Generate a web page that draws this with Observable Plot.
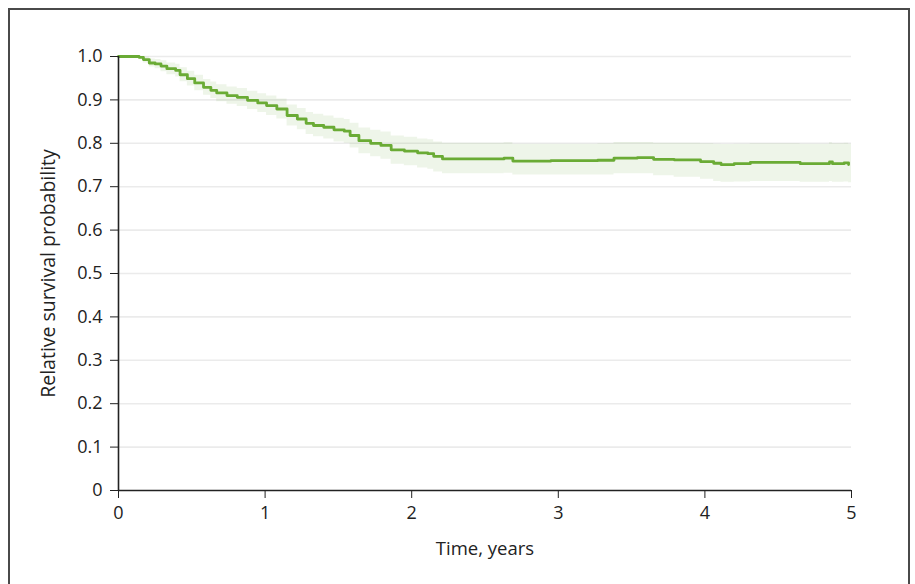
<!DOCTYPE html>
<html>
<head>
<meta charset="utf-8">
<script src="https://cdn.jsdelivr.net/npm/d3@7"></script>
<script src="https://cdn.jsdelivr.net/npm/@observablehq/plot@0.6"></script>
<style>
  html, body { margin: 0; padding: 0; background: #fff; overflow: hidden; }
  #wrap { position: relative; width: 915px; height: 584px; }
  #frame { position: absolute; left: 8px; top: 8px; width: 898px; height: 600px; border: 2px solid #4a4a4a; pointer-events: none; }
  #chart { position: absolute; left: 0; top: 0; }
</style>
</head>
<body>
<div id="wrap"><div id="chart"></div><div id="frame"></div></div>
<script>
const time = [0.00,0.14,0.17,0.21,0.25,0.29,0.33,0.39,0.42,0.47,0.52,0.58,0.63,0.67,0.74,0.81,0.88,0.95,1.01,1.08,1.15,1.22,1.28,1.33,1.40,1.47,1.54,1.58,1.64,1.72,1.79,1.86,1.95,2.04,2.11,2.15,2.21,2.38,2.63,2.69,2.95,3.27,3.38,3.54,3.65,3.79,3.97,4.06,4.11,4.20,4.31,4.54,4.65,4.85,4.87,4.95,4.98,5.00];
const survival = [1.000,0.998,0.993,0.985,0.983,0.978,0.972,0.968,0.958,0.949,0.939,0.929,0.922,0.916,0.910,0.906,0.899,0.893,0.887,0.879,0.864,0.856,0.846,0.841,0.837,0.831,0.828,0.818,0.806,0.800,0.795,0.785,0.782,0.778,0.776,0.770,0.764,0.764,0.766,0.759,0.760,0.761,0.766,0.767,0.763,0.762,0.758,0.754,0.751,0.753,0.756,0.756,0.753,0.757,0.753,0.755,0.751,0.751];
const lower = [1.000,0.994,0.985,0.976,0.972,0.965,0.958,0.953,0.942,0.932,0.921,0.911,0.903,0.896,0.890,0.885,0.878,0.871,0.864,0.856,0.840,0.831,0.820,0.815,0.810,0.803,0.800,0.789,0.776,0.769,0.763,0.752,0.748,0.743,0.740,0.734,0.730,0.730,0.731,0.727,0.727,0.727,0.730,0.730,0.725,0.722,0.717,0.712,0.710,0.711,0.712,0.712,0.710,0.712,0.710,0.711,0.709,0.709];
const upper = [1.000,1.000,0.999,0.994,0.993,0.990,0.985,0.982,0.974,0.966,0.957,0.947,0.941,0.935,0.930,0.926,0.920,0.914,0.909,0.902,0.888,0.880,0.871,0.867,0.863,0.858,0.855,0.846,0.835,0.830,0.826,0.817,0.814,0.810,0.808,0.803,0.800,0.800,0.801,0.798,0.798,0.799,0.802,0.802,0.800,0.800,0.799,0.798,0.797,0.798,0.799,0.799,0.798,0.801,0.799,0.800,0.798,0.798];
const xTicks = [0,1,2,3,4,5];
const yTicks = [0,0.1,0.2,0.3,0.4,0.5,0.6,0.7,0.8,0.9,1.0];
const xLabel = "Time, years";
const yLabel = "Relative survival probability";

const data = time.map((t, i) => ({t, s: survival[i], lo: lower[i], hi: upper[i]}));
const green = "#6aab35";

const chart = Plot.plot({
  width: 915,
  height: 584,
  marginLeft: 118,
  marginRight: 64,
  marginTop: 56,
  marginBottom: 94,
  style: {fontFamily: "'Open Sans', sans-serif", fontSize: "18px", color: "#222", background: "transparent"},
  x: {domain: [0, 5]},
  y: {domain: [0, 1]},
  marks: [
    Plot.ruleY(yTicks.filter(d => d > 0), {x1: 0, x2: 5, stroke: "#ebebeb", strokeWidth: 1.6}),
    Plot.areaY(data, {x: "t", y1: "lo", y2: "hi", curve: "step-after", fill: "#70ad47", fillOpacity: 0.12}),
    Plot.line(data.filter(d => d.t < 4.99), {x: "t", y: "s", curve: "step-after", stroke: green, strokeWidth: 2.8}),
    Plot.axisX({ticks: xTicks, tickFormat: d => String(d), tickSize: 8, tickPadding: 8, label: null, stroke: "#222"}),
    Plot.axisY({ticks: yTicks, tickFormat: d => d === 0 ? "0" : d.toFixed(1), tickSize: 8, tickPadding: 8, label: null, stroke: "#222"}),
    Plot.ruleY([0], {x1: 0, x2: 5, stroke: "#222", strokeWidth: 1.6}),
    Plot.ruleX([0], {y1: 0, y2: 1, stroke: "#222", strokeWidth: 1.6}),
    Plot.text([xLabel], {frameAnchor: "bottom", dy: 64, text: d => d, fill: "#222", fontSize: 18.5}),
    Plot.text([yLabel], {frameAnchor: "left", dx: -70, rotate: -90, textAnchor: "middle", text: d => d, fill: "#222", fontSize: 19.5})
  ]
});
document.getElementById("chart").append(chart);
</script>
</body>
</html>
